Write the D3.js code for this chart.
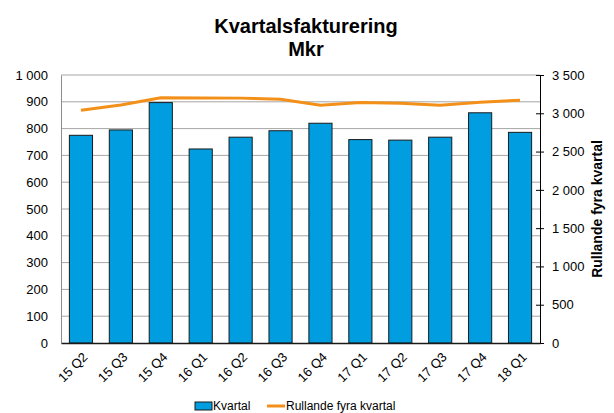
<!DOCTYPE html>
<html>
<head>
  <meta charset="utf-8">
  <title>Kvartalsfakturering</title>
  <script src="https://d3js.org/d3.v7.min.js"></script>
  <style>
body { margin: 0; background: #fff; }
text { font-family: "Liberation Sans", Arial, sans-serif; fill: #000; }
.bar { fill: #009de0; stroke: #1a1a1a; stroke-width: 1; }
.grid line { stroke: #a6a6a6; }
  </style>
</head>
<body>
<div id="chart"></div>
<script>
var kvartal = ["15 Q2","15 Q3","15 Q4","16 Q1","16 Q2","16 Q3","16 Q4","17 Q1","17 Q2","17 Q3","17 Q4","18 Q1"];
var fakturering = [775, 795, 897, 724, 768, 792, 820, 759, 757, 768, 859, 786];
var rullande = [3040, 3108, 3203, 3200, 3198, 3183, 3104, 3142, 3132, 3106, 3145, 3170];
var vTicks = [0,100,200,300,400,500,600,700,800,900,1000];
var hTicks = [0,500,1000,1500,2000,2500,3000,3500];

var w = 614, h = 413;
var m = {left: 61, right: 74, top: 75, bottom: 70};
var svg = d3.select("#chart").append("svg").attr("width", w).attr("height", h);

var x = d3.scaleBand().domain(kvartal).range([m.left, w - m.right]).paddingInner(0.42).paddingOuter(0.21);
var yL = d3.scaleLinear().domain([0, 1000]).range([h - m.bottom, m.top]);
var yR = d3.scaleLinear().domain([0, 3500]).range([h - m.bottom, m.top]);
var fmt = d => d3.format(",")(d).replace(/,/g, " ");

// gridlines
svg.append("g").attr("class", "grid")
  .selectAll("line").data(vTicks.slice(1)).enter().append("line")
    .attr("x1", m.left).attr("x2", w - m.right)
    .attr("y1", d => yL(d)).attr("y2", d => yL(d));

// bars
svg.selectAll("rect.bar").data(fakturering).enter().append("rect")
  .attr("class", "bar")
  .attr("x", (d, i) => x(kvartal[i]))
  .attr("y", d => yL(d))
  .attr("width", x.bandwidth())
  .attr("height", d => yL(0) - yL(d));

// line
var line = d3.line().x((d, i) => x(kvartal[i]) + x.bandwidth() / 2).y(d => yR(d));
svg.append("path").datum(rullande)
  .attr("d", line).attr("fill", "none")
  .attr("stroke", "#f39019").attr("stroke-width", 3);

// left axis
var gL = svg.append("g").attr("transform", "translate(" + m.left + ",0)")
  .call(d3.axisLeft(yL).tickValues(vTicks).tickFormat(fmt).tickSize(0).tickPadding(13));
gL.select(".domain").attr("stroke", "#8c8c8c");
gL.selectAll("text").style("font-size", "13px");

// right axis
var gR = svg.append("g").attr("transform", "translate(" + (w - m.right) + ",0)")
  .call(d3.axisRight(yR).tickValues(hTicks).tickFormat(fmt).tickSizeInner(4).tickSizeOuter(0).tickPadding(8));
gR.selectAll(".tick line").attr("x1", -4).attr("stroke", "#000");
gR.select(".domain").attr("stroke", "#000");
gR.selectAll("text").style("font-size", "13px");

// bottom axis
var gB = svg.append("g").attr("transform", "translate(0," + (h - m.bottom) + ")")
  .call(d3.axisBottom(x).tickSize(0).tickPadding(8));
gB.select(".domain").attr("stroke", "#1a1a1a").attr("stroke-width", 1.5);
gB.selectAll("text").style("font-size", "13px")
  .attr("text-anchor", "end")
  .attr("transform", "rotate(-45)")
  .attr("dx", "-0.4em").attr("dy", "0.6em");

// titles
svg.append("text").attr("x", 306).attr("y", 33).attr("text-anchor", "middle")
  .style("font-size", "20px").style("font-weight", "bold").text("Kvartalsfakturering");
svg.append("text").attr("x", 306).attr("y", 56).attr("text-anchor", "middle")
  .style("font-size", "20px").style("font-weight", "bold").text("Mkr");
svg.append("text").attr("transform", "translate(602," + ((m.top + h - m.bottom) / 2) + ") rotate(-90)")
  .attr("text-anchor", "middle").style("font-size", "14px").style("font-weight", "bold")
  .text("Rullande fyra kvartal");

// legend
var lg = svg.append("g");
lg.append("rect").attr("x", 195).attr("y", 402).attr("width", 17).attr("height", 8)
  .attr("fill", "#009de0").attr("stroke", "#1a1a1a");
lg.append("text").attr("x", 213).attr("y", 410).style("font-size", "12px").text("Kvartal");
lg.append("line").attr("x1", 267).attr("x2", 285).attr("y1", 406).attr("y2", 406)
  .attr("stroke", "#f39019").attr("stroke-width", 3);
lg.append("text").attr("x", 286).attr("y", 410).style("font-size", "12px").text("Rullande fyra kvartal");
</script>
</body>
</html>
